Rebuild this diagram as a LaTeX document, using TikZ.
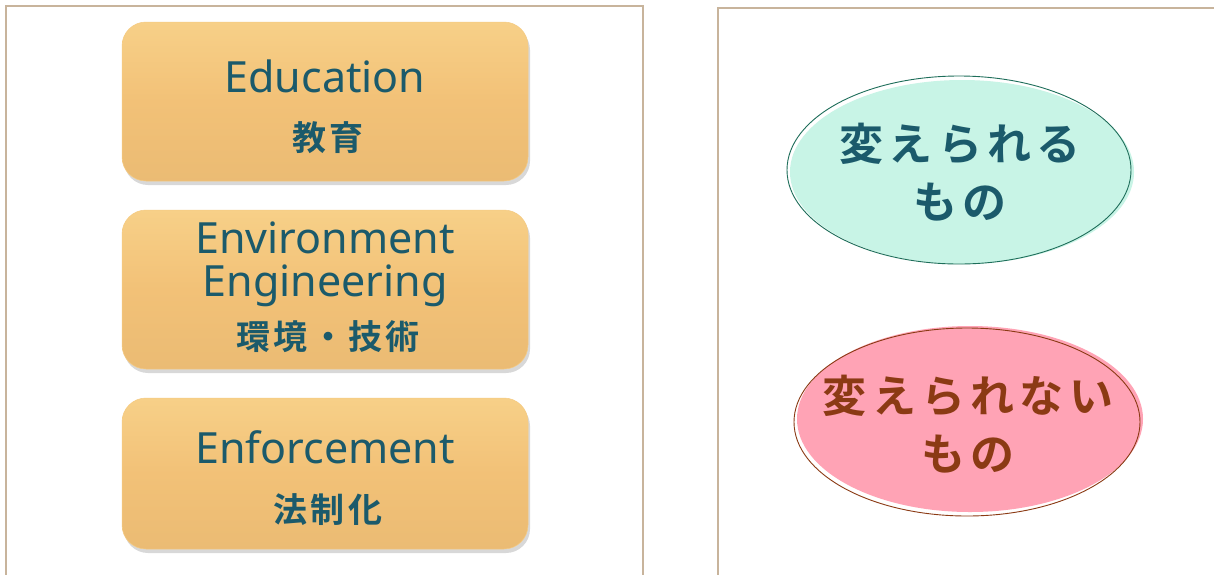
\documentclass[tikz,border=0pt]{standalone}
\usepackage{fontspec}
\setmainfont{Noto Sans}
\newfontfamily\jpbox{Noto Sans CJK JP Bold}[LetterSpace=9]
\newfontfamily\jpbold{Noto Sans CJK JP Bold}[LetterSpace=12]
\usetikzlibrary{shadows}
\definecolor{tealtxt}{HTML}{1B5A6B}
\definecolor{boxfill}{HTML}{F2C177}
\definecolor{boxtop}{HTML}{F7D088}
\definecolor{frame}{HTML}{C8B49C}
\definecolor{mintfill}{HTML}{C8F4E6}
\definecolor{mintline}{HTML}{1E6E5A}
\definecolor{pinkfill}{HTML}{FFA3B5}
\definecolor{brownline}{HTML}{8B3A14}
\tikzset{
  panel/.style={draw=frame, line width=1.2pt, fill=white},
  ebox/.style={rounded corners=24pt, top color=boxtop, bottom color=boxfill!97!black, middle color=boxfill,
     draw=boxtop!70!boxfill, line width=0.5pt,
     drop shadow={shadow xshift=2pt, shadow yshift=-4pt, opacity=0.3, fill=gray}},
  etext/.style={text=tealtxt, anchor=base, font=\fontsize{43}{48}\selectfont},
  jtext/.style={text=tealtxt, font=\jpbox\fontsize{34}{38}\selectfont},
}
\begin{document}
\begin{tikzpicture}[x=1pt,y=-1pt]
\useasboundingbox (0,0) rectangle (1214,574);
\fill[white] (0,0) rectangle (1214,574);
% panels
\draw[panel] (6,580) -- (6,6) -- (643,6) -- (643,580);
\draw[panel] (718,580) -- (718,8) -- (1220,8);
% boxes
\draw[ebox] (122,22) rectangle (528,181);
\draw[ebox] (122,210) rectangle (528,369);
\draw[ebox] (122,398) rectangle (528,549);
\node[etext] (ed) at (325,92) {Education};
\node[jtext] (edj) at (328,138) {教育};
\node[etext] (en1) at (325,253) {Environment};
\node[etext] (en2) at (325,296) {Engineering};
\node[jtext] (enj) at (328,337) {環境・技術};
\node[etext] (ef) at (325,463) {Enforcement};
\node[jtext] (efj) at (328,510) {法制化};
% ellipses
\fill[mintfill] (962,172) ellipse [x radius=172, y radius=92];
\draw[mintline, line width=0.9pt] (959,170) ellipse [x radius=172, y radius=94];
\fill[pinkfill] (970,419) ellipse [x radius=173, y radius=93];
\draw[brownline, line width=0.9pt] (967,422) ellipse [x radius=173, y radius=94];
\node[text=tealtxt, align=center, font=\jpbold\fontsize{44}{58}\selectfont] (t1) at (960,172) {変えられる\\もの};
\node[text=brownline, align=center, font=\jpbold\fontsize{44}{58}\selectfont] (t2) at (968,424) {変えられない\\もの};
\end{tikzpicture}
\end{document}
